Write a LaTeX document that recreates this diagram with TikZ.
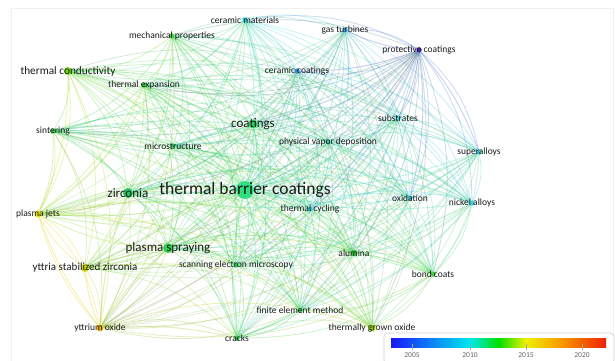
\documentclass[tikz,border=0pt]{standalone}
\usepackage{fontspec}
\setmainfont{Carlito}
\usetikzlibrary{backgrounds}
\definecolor{c-cm}{HTML}{20D8E0}
\definecolor{c-mp}{HTML}{40D040}
\definecolor{c-gt}{HTML}{40A8E0}
\definecolor{c-pc}{HTML}{4A28C8}
\definecolor{c-tc}{HTML}{70E000}
\definecolor{c-te}{HTML}{30C838}
\definecolor{c-cc}{HTML}{3090E0}
\definecolor{c-co}{HTML}{30D060}
\definecolor{c-su}{HTML}{40D0D0}
\definecolor{c-si}{HTML}{30C840}
\definecolor{c-mi}{HTML}{30C868}
\definecolor{c-pvd}{HTML}{30C8A8}
\definecolor{c-sa}{HTML}{40C8E0}
\definecolor{c-tbc}{HTML}{30E080}
\definecolor{c-zr}{HTML}{20C860}
\definecolor{c-pj}{HTML}{E8E000}
\definecolor{c-tcy}{HTML}{30C8D0}
\definecolor{c-ox}{HTML}{40C8D8}
\definecolor{c-na}{HTML}{40D0E0}
\definecolor{c-ps}{HTML}{30D050}
\definecolor{c-ysz}{HTML}{C8D800}
\definecolor{c-sem}{HTML}{30D060}
\definecolor{c-al}{HTML}{30C840}
\definecolor{c-bc}{HTML}{40D040}
\definecolor{c-fem}{HTML}{30C850}
\definecolor{c-yo}{HTML}{F0B000}
\definecolor{c-cr}{HTML}{30D050}
\definecolor{c-tgo}{HTML}{90D000}
\definecolor{txt}{HTML}{1A1A1A}
\definecolor{bar-blue}{HTML}{1818F8}
\definecolor{bar-cyan}{HTML}{00E8F0}
\definecolor{bar-green}{HTML}{00E000}
\definecolor{bar-yellow}{HTML}{F0F000}
\definecolor{bar-orange}{HTML}{F8A000}
\definecolor{bar-red}{HTML}{F02000}
\pgfdeclarehorizontalshading{vosbar}{100bp}{color(0bp)=(bar-blue); color(25bp)=(bar-blue); color(43.3bp)=(bar-cyan); color(50bp)=(bar-green); color(56.4bp)=(bar-yellow); color(64bp)=(bar-orange); color(75bp)=(bar-red); color(100bp)=(bar-red)}
\tikzset{
  dot/.style={circle, inner sep=0pt, minimum size=5.5},
  lbl/.style={inner sep=0pt, text=txt, font=\fontsize{9.5}{9.5}\selectfont},
  lblm/.style={inner sep=0pt, text=txt, font=\fontsize{13}{13}\selectfont},
  lblb/.style={inner sep=0pt, text=txt, font=\fontsize{17.5}{17.5}\selectfont},
  edge/.style={line width=0.8pt, draw opacity=0.28},
  hub/.style={line width=0.9pt, draw opacity=0.3},
  tick/.style={draw=gray!70, line width=0.6pt},
  year/.style={inner sep=0pt, text=gray!80!black, font=\fontsize{7.5}{7.5}\selectfont}
}
\begin{document}
\begin{tikzpicture}[x=1pt,y=-1pt]
\useasboundingbox (0,0) rectangle (615,360);
\draw[gray!12, line width=0.8pt] (11,365) -- (11,8) -- (613,8) -- (613,365);

% nodes (dots)
\node[dot, fill=c-cm] (cm) at (245,20) {};
\node[dot, fill=c-mp] (mp) at (172,36) {};
\node[dot, fill=c-gt] (gt) at (345,30) {};
\node[dot, fill=c-pc] (pc) at (419,50) {};
\node[dot, fill=c-tc, minimum size=8] (tc) at (68,71) {};
\node[dot, fill=c-te] (te) at (144,85) {};
\node[dot, fill=c-cc] (cc) at (297,71) {};
\node[dot, fill=c-co, minimum size=9] (co) at (253,124) {};
\node[dot, fill=c-su] (su) at (398,118) {};
\node[dot, fill=c-si] (si) at (53,131) {};
\node[dot, fill=c-mi] (mi) at (173,146) {};
\node[dot, fill=c-pvd] (pvd) at (328,142) {};
\node[dot, fill=c-sa] (sa) at (479,152) {};
\node[dot, fill=c-tbc, minimum size=18] (tbc) at (245,190) {};
\node[dot, fill=c-zr, minimum size=10] (zr) at (128,193) {};
\node[dot, fill=c-pj, minimum size=7] (pj) at (38,214) {};
\node[dot, fill=c-tcy] (tcy) at (310,209) {};
\node[dot, fill=c-ox] (ox) at (410,198) {};
\node[dot, fill=c-na] (na) at (472,203) {};
\node[dot, fill=c-ps, minimum size=10] (ps) at (168,248) {};
\node[dot, fill=c-ysz, minimum size=8] (ysz) at (85,268) {};
\node[dot, fill=c-sem] (sem) at (236,265) {};
\node[dot, fill=c-al, minimum size=7] (al) at (354,253) {};
\node[dot, fill=c-bc] (bc) at (433,274) {};
\node[dot, fill=c-fem] (fem) at (300,310) {};
\node[dot, fill=c-yo, minimum size=7] (yo) at (100,328) {};
\node[dot, fill=c-cr] (cr) at (237,338) {};
\node[dot, fill=c-tgo, minimum size=7] (tgo) at (372,328) {};

% edges
\begin{scope}[on background layer]
\foreach \a [count=\i] in {cm,mp,gt,pc,tc,te,cc,co,su,si,mi,pvd,sa,tbc,zr,pj,tcy,ox,na,ps,ysz,sem,al,bc,fem,yo,cr,tgo}{
  \foreach \b [count=\j] in {cm,mp,gt,pc,tc,te,cc,co,su,si,mi,pvd,sa,tbc,zr,pj,tcy,ox,na,ps,ysz,sem,al,bc,fem,yo,cr,tgo}{
    \ifnum\i<\j
      \draw[edge, draw=c-\a!50!c-\b] (\a) to[bend left=18] (\b);
    \fi
  }
}
\foreach \b in {cm,mp,gt,pc,tc,te,cc,co,su,si,mi,pvd,sa,zr,pj,tcy,ox,na,ps,ysz,sem,al,bc,fem,yo,cr,tgo}{
  \draw[hub, draw=c-tbc!50!c-\b] (tbc) to[bend right=10] (\b);
}
\foreach \b in {tc,si,zr,ps,ysz,yo,te}{
  \draw[hub, draw=c-pj!60!c-\b] (pj) to[bend right=12] (\b);
}
\foreach \b in {pj,ysz,ps,zr,cr}{
  \draw[hub, draw=c-yo!60!c-\b] (yo) to[bend left=8] (\b);
}
\foreach \b in {su,gt,cc,sa,ox,tcy,co}{
  \draw[hub, draw=c-pc!60!c-\b] (pc) to[bend left=10] (\b);
}
\end{scope}

% labels
\node[lbl] (cm-t) at (cm) {ceramic materials};
\node[lbl] (mp-t) at (mp) {mechanical properties};
\node[lbl] (gt-t) at (gt) {gas turbines};
\node[lbl] (pc-t) at (pc) {protective coatings};
\node[lbl, font=\fontsize{11.3}{11.3}\selectfont] (tc-t) at (tc) {thermal conductivity};
\node[lbl] (te-t) at (te) {thermal expansion};
\node[lbl] (cc-t) at (cc) {ceramic coatings};
\node[lblm] (co-t) at (co) {coatings};
\node[lbl] (su-t) at (su) {substrates};
\node[lbl] (si-t) at (si) {sintering};
\node[lbl] (mi-t) at (mi) {microstructure};
\node[lbl] (pvd-t) at (pvd) {physical vapor deposition};
\node[lbl] (sa-t) at (sa) {superalloys};
\node[lblb] (tbc-t) at (tbc) {thermal barrier coatings};
\node[lblm] (zr-t) at (zr) {zirconia};
\node[lbl] (pj-t) at (pj) {plasma jets};
\node[lbl] (tcy-t) at (tcy) {thermal cycling};
\node[lbl] (ox-t) at (ox) {oxidation};
\node[lbl] (na-t) at (na) {nickel alloys};
\node[lblm] (ps-t) at (ps) {plasma spraying};
\node[lbl, font=\fontsize{11}{11}\selectfont] (ysz-t) at (ysz) {yttria stabilized zirconia};
\node[lbl] (sem-t) at (sem) {scanning electron microscopy};
\node[lbl] (al-t) at (al) {alumina};
\node[lbl] (bc-t) at (bc) {bond coats};
\node[lbl] (fem-t) at (fem) {finite element method};
\node[lbl] (yo-t) at (yo) {yttrium oxide};
\node[lbl] (cr-t) at (cr) {cracks};
\node[lbl] (tgo-t) at (tgo) {thermally grown oxide};

% colour bar
\draw[gray!35, fill=white, rounded corners=4, line width=0.7pt] (384,333) rectangle (614,364);
\shade[shading=vosbar] (391,338) rectangle (606,347);
\foreach \yr/\xx in {2005/412, 2010/470, 2015/526, 2020/582}{
  \coordinate (tk\yr) at (\xx,344);
  \draw[tick] (tk\yr) -- ++(0,6);
  \node[year] (y\yr) at (\xx,355) {\yr};
}
\end{tikzpicture}
\end{document}
